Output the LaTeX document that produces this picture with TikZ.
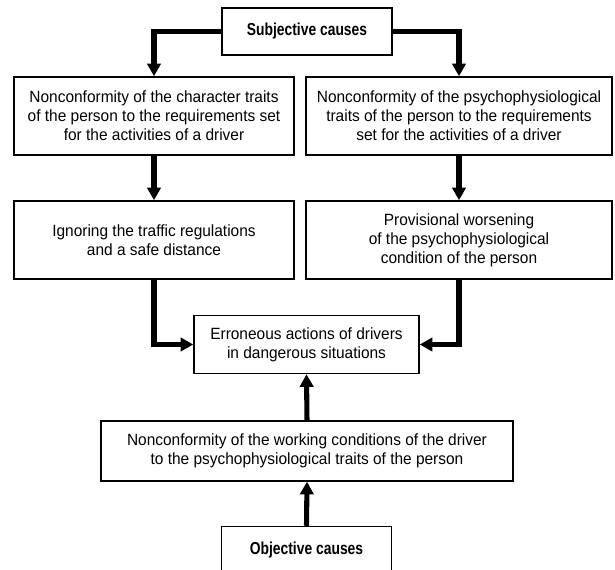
\documentclass[tikz,border=0pt]{standalone}
\usepackage{fontspec}
\setmainfont{Liberation Sans}[FakeStretch=0.95]
\newfontfamily\headfont{Liberation Sans}[FakeStretch=0.8]
\usepackage{tikz}
\usetikzlibrary{calc,arrows.meta}
\def\px{0.75pt}
\tikzset{x=0.75pt, y=-0.75pt,
    cause box/.style={draw=black, line width=1.1pt, align=center,
          inner sep=0pt, font=\fontsize{12.2}{14.25}\selectfont},
    head box/.style={cause box,
          font=\headfont\bfseries\fontsize{13}{15}\selectfont},
    flow/.style={line width=3.8pt, -{Triangle[length=9.5pt,width=10pt]}}
    }
\def\CauseBox#1#2#3#4#5#6{%
 \node[cause box, minimum width=#4*\px, minimum height=#5*\px] (#1) at (#2,#3) {#6};
}
\def\HeadBox#1#2#3#4{%
 \node[head box, minimum width=170*\px, minimum height=47*\px] (#1) at (#2,#3) {#4};
}

\begin{document}
\begin{tikzpicture}
\useasboundingbox (0,0) rectangle (615,570);
\HeadBox{subj}{307}{31.5}{Subjective causes}
\CauseBox{charact}{154}{116}{280}{78}{Nonconformity of the character traits\\of the person to the requirements set\\for the activities of a driver}
\CauseBox{psycho}{459}{116}{306}{78}{Nonconformity of the psychophysiological\\traits of the person to the requirements\\set for the activities of a driver}
\CauseBox{ignore}{154}{240}{280}{78}{Ignoring the traffic regulations\\and a safe distance}
\CauseBox{worsen}{459}{240}{306}{78}{Provisional worsening\\of the psychophysiological\\condition of the person}
\CauseBox{errors}{306.5}{344.5}{225}{58}{Erroneous actions of drivers\\in dangerous situations}
\CauseBox{working}{307}{451}{412}{60}{Nonconformity of the working conditions of the driver\\to the psychophysiological traits of the person}
\HeadBox{obj}{306.5}{550}{Objective causes}
\draw[flow] (subj.west) -| (charact.north);
\draw[flow] (subj.east) -| (psycho.north);
\draw[flow] (charact.south) -- (ignore.north);
\draw[flow] (psycho.south) -- (worsen.north);
\draw[flow] (ignore.south) |- (errors.west);
\draw[flow] (worsen.south) |- (errors.east);
\draw[flow] (obj.north) -- (working.south);
\draw[flow] (working.north) -- (errors.south);
\end{tikzpicture}
\end{document}
